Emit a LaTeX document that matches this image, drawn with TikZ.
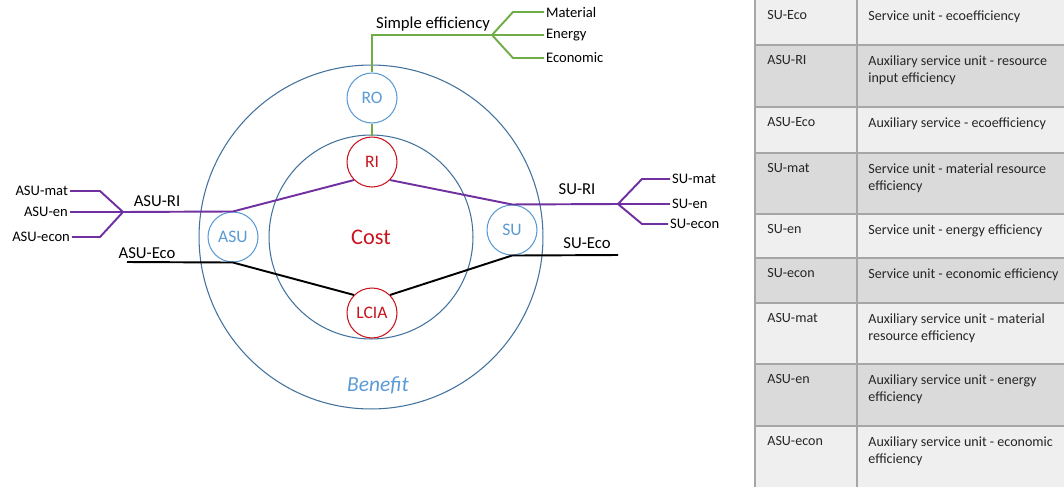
\documentclass[tikz,border=0pt]{standalone}
\usepackage{fontspec}
\setmainfont{Carlito}
\usepackage{xcolor}
\usepackage{tikz}
\usetikzlibrary{calc}

\definecolor{ringblue}{RGB}{65,113,156}
\definecolor{unitblue}{RGB}{91,155,213}
\definecolor{impred}{RGB}{200,20,30}
\definecolor{ripurple}{RGB}{112,48,160}
\definecolor{simgreen}{RGB}{112,173,71}
\definecolor{rowlight}{RGB}{239,239,239}
\definecolor{rowdark}{RGB}{218,218,218}
\definecolor{gridgray}{RGB}{166,166,166}

\begin{document}
\begin{tikzpicture}[
  x=0.02cm,y=-0.02cm,
  font=\fontsize{9.5}{11}\selectfont,
  ring/.style={draw=ringblue,circle,line width=0.6pt,inner sep=0pt},
  unit/.style={draw=unitblue,circle,minimum size=1cm,inner sep=0pt,fill=white,
               text=unitblue,line width=0.6pt,font=\fontsize{10}{11}\selectfont},
  imp/.style={unit,draw=impred,text=impred},
  lbl/.style={inner sep=1pt},
  sub/.style={inner sep=1pt,font=\fontsize{8.3}{10}\selectfont},
  rip/.style={ripurple,line width=1.1pt},
  eco/.style={black,line width=1.1pt},
  simp/.style={simgreen,line width=1.1pt},
  tabline/.style={gridgray,line width=1.1pt},
  cell/.style={anchor=north west,inner sep=0pt,align=left,
               font=\fontsize{8}{10}\selectfont,text=black!85}]

\useasboundingbox (0,0) rectangle (1064,487);

% ---- rings ------------------------------------------------------------
\node[ring,minimum size=6.88cm] (benefit) at (371,237) {};
\node[ring,minimum size=4.08cm] (cost) at (371,237) {};
\node[text=impred,font=\fontsize{12.7}{14}\selectfont] (costlbl) at (371,237) {Cost};
\node[text=unitblue,font=\fontsize{12.2}{14}\selectfont\itshape] (benlbl) at (378,385) {Benefit};

% ---- units ------------------------------------------------------------
\node[unit] (ro)   at (372,98)  {RO};
\node[imp]  (ri)   at (372,162) {RI};
\node[unit] (asu)  at (233,237) {ASU};
\node[unit] (su)   at (512,230) {SU};
\node[imp]  (lcia) at (372,313) {LCIA};

% ---- branch points ----------------------------------------------------
\coordinate (asuri)  at (123,212);
\coordinate (suri)   at (618,204);
\coordinate (simpl)  at (492,35);
\coordinate (asueco) at (127,262);
\coordinate (sueco)  at (618,255);

% ---- labels -----------------------------------------------------------
\node[sub,anchor=east] (asumat)  at (70,191)  {ASU-mat};
\node[sub,anchor=east] (asuen)   at (70,212)  {ASU-en};
\node[sub,anchor=east] (asuecon) at (72,237)  {ASU-econ};
\node[sub,anchor=west] (sumat)   at (670,179) {SU-mat};
\node[sub,anchor=west] (suen)    at (670,204) {SU-en};
\node[sub,anchor=west] (suecon)  at (668,224) {SU-econ};
\node[sub,anchor=west] (mat)     at (544,12)  {Material};
\node[sub,anchor=west] (ener)    at (544,35)  {Energy};
\node[sub,anchor=west] (econ)    at (544,58)  {Economic};
\node[lbl] (asurilbl)  at (157,201) {ASU-RI};
\node[lbl] (surilbl)   at (577,189) {SU-RI};
\node[lbl] (asuecolbl) at (147,253) {ASU-Eco};
\node[lbl] (suecolbl)  at (587,243) {SU-Eco};
\node[lbl] (simplbl)   at (433,24)  {Simple efficiency};

% ---- edges ------------------------------------------------------------
\draw[simp] (ro.north) |- (simpl);
\draw[simp] (simpl) -- ++(21,-23) -- (mat.west);
\draw[simp] (simpl) -- (ener.west);
\draw[simp] (simpl) -- ++(21,23) -- (econ.west);
\draw[simp] (ro.south) -- (ri.north);

\draw[rip] (asumat.east) -- ++(30,0) -- (asuri);
\draw[rip] (asuen.east) -- (asuri);
\draw[rip] (asuecon.east) -- ++(28,0) -- (asuri);
\draw[rip] (asuri) -- (asu.north) -- (ri.south west);
\draw[rip] (ri.south east) -- (su.north) -- (suri);
\draw[rip] (suri) -- ++(24,-25) -- (sumat.west);
\draw[rip] (suri) -- (suen.west);
\draw[rip] (suri) -- ++(24,20) -- (suecon.west);

\draw[eco] (asueco) -- (asu.south) -- (lcia.north west);
\draw[eco] (lcia.north east) -- (su.south) -- (sueco);

% ---- table ------------------------------------------------------------
\fill[rowlight] (755,0)   rectangle (1064,45);
\fill[rowdark]  (755,45)  rectangle (1064,107);
\fill[rowlight] (755,107) rectangle (1064,153);
\fill[rowdark]  (755,153) rectangle (1064,214);
\fill[rowlight] (755,214) rectangle (1064,258);
\fill[rowdark]  (755,258) rectangle (1064,303);
\fill[rowlight] (755,303) rectangle (1064,364);
\fill[rowdark]  (755,364) rectangle (1064,426);
\fill[rowlight] (755,426) rectangle (1064,487);

\draw[tabline] (755,0) -- (755,487);
\draw[tabline] (857,0) -- (857,487);
\draw[tabline] (755,45)  -- (1064,45);
\draw[tabline] (755,107) -- (1064,107);
\draw[tabline] (755,153) -- (1064,153);
\draw[tabline] (755,214) -- (1064,214);
\draw[tabline] (755,258) -- (1064,258);
\draw[tabline] (755,303) -- (1064,303);
\draw[tabline] (755,364) -- (1064,364);
\draw[tabline] (755,426) -- (1064,426);

\node[cell] (abbr1) at (767,10)  {SU-Eco};
\node[cell] (desc1) at (868,10)  {Service unit - ecoefficiency};
\node[cell] (abbr2) at (767,55)  {ASU-RI};
\node[cell] (desc2) at (868,55)  {Auxiliary service unit - resource\\input efficiency};
\node[cell] (abbr3) at (767,117) {ASU-Eco};
\node[cell] (desc3) at (868,117) {Auxiliary service - ecoefficiency};
\node[cell] (abbr4) at (767,163) {SU-mat};
\node[cell] (desc4) at (868,163) {Service unit - material resource\\efficiency};
\node[cell] (abbr5) at (767,224) {SU-en};
\node[cell] (desc5) at (868,224) {Service unit - energy efficiency};
\node[cell] (abbr6) at (767,268) {SU-econ};
\node[cell] (desc6) at (868,268) {Service unit - economic efficiency};
\node[cell] (abbr7) at (767,313) {ASU-mat};
\node[cell] (desc7) at (868,313) {Auxiliary service unit - material\\resource efficiency};
\node[cell] (abbr8) at (767,374) {ASU-en};
\node[cell] (desc8) at (868,374) {Auxiliary service unit - energy\\efficiency};
\node[cell] (abbr9) at (767,436) {ASU-econ};
\node[cell] (desc9) at (868,436) {Auxiliary service unit - economic\\efficiency};
\end{tikzpicture}
\end{document}
